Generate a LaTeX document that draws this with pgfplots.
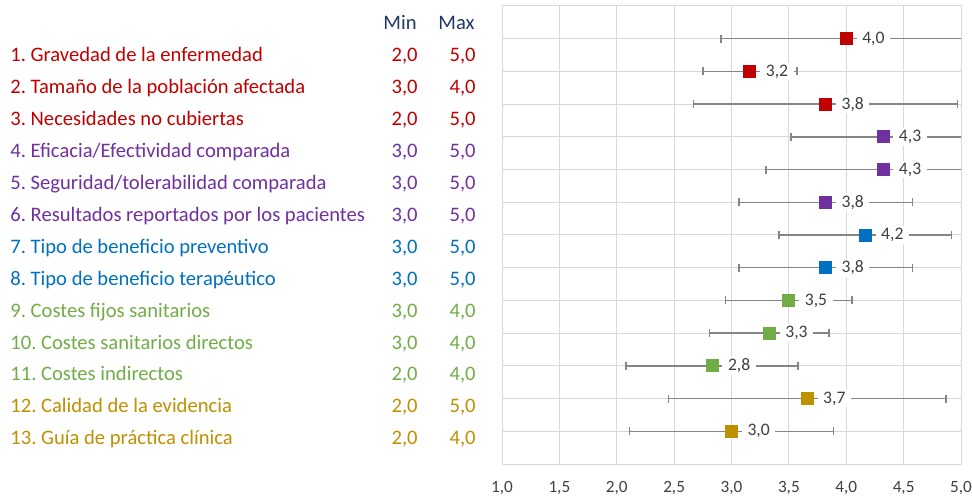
\documentclass[border=0pt]{standalone}
\usepackage{pgfplots}
\usepackage{pgfplotstable}
\pgfplotsset{compat=1.18}
\usepackage{fontspec}
\setmainfont{Carlito}
\frenchspacing
\definecolor{cred}{HTML}{C00000}
\definecolor{cpur}{HTML}{7030A0}
\definecolor{cblue}{HTML}{0070C0}
\definecolor{cgreen}{HTML}{70AD47}
\definecolor{cgold}{HTML}{BF9000}
\definecolor{cnavy}{HTML}{1F3864}
\definecolor{gridc}{HTML}{D9D9D9}
\definecolor{errc}{HTML}{858585}
\definecolor{lblc}{HTML}{404040}

\pgfplotstableread{
x y e l
4.00 13 1.09 4,0
3.16 12 0.41 3,2
3.82 11 1.15 3,8
}\tred
\pgfplotstableread{
x y e l
4.32 10 0.80 4,3
4.32 9 1.02 4,3
3.82 8 0.755 3,8
}\tpur
\pgfplotstableread{
x y e l
4.165 7 0.75 4,2
3.82 6 0.755 3,8
}\tblue
\pgfplotstableread{
x y e l
3.50 5 0.55 3,5
3.33 4 0.52 3,3
2.83 3 0.75 2,8
}\tgreen
\pgfplotstableread{
x y e l
3.66 2 1.21 3,7
3.00 1 0.89 3,0
}\tgold

\newcommand\row[5]{%
  \pgfmathsetmacro\yy{201-15.95*(#1-1)}%
  \node[anchor=base west, text=#2, font=\fontsize{10.3}{12}\selectfont, inner sep=0pt] at (-246pt,\yy pt) {#3};
  \node[anchor=base east, text=#2, font=\fontsize{10.3}{12}\selectfont, inner sep=0pt] at (-42pt,\yy pt) {#4};
  \node[anchor=base east, text=#2, font=\fontsize{10.3}{12}\selectfont, inner sep=0pt] at (-13pt,\yy pt) {#5};
}

\begin{document}
\begin{tikzpicture}
\useasboundingbox (-251pt,-16.5pt) rectangle (235pt,232pt);
\begin{axis}[at={(0,0)}, anchor=south west, scale only axis,
  width=229.5pt, height=229pt,
  xmin=1, xmax=5, ymin=0, ymax=14,
  xtick={1,1.5,...,5}, ytick={0,...,14}, yticklabels={},
  grid=major, grid style={gridc, line width=0.5pt},
  axis line style={gridc, line width=0.5pt},
  major tick length=0pt,
  /pgf/number format/assume math mode=true,
  xticklabel style={font=\fontsize{8.6}{10}\selectfont, text=lblc, yshift=-5pt,
    /pgf/number format/.cd, fixed, fixed zerofill, precision=1, use comma},
  only marks,
  point meta=explicit symbolic,
  nodes near coords,
  nodes near coords style={anchor=west, xshift=5pt, fill=white, inner xsep=2.8pt, inner ysep=1pt,
    font=\fontsize{8.8}{10}\selectfont, text=lblc},
  error bars/x dir=both, error bars/x explicit,
  error bars/error bar style={errc, line width=0.7pt},
  error bars/error mark options={errc, mark size=2pt, line width=0.7pt, rotate=90},
]
\addplot[mark=square*, mark size=3pt, color=cred] table[x=x, y=y, x error=e, meta=l] {\tred};
\addplot[mark=square*, mark size=3pt, color=cpur] table[x=x, y=y, x error=e, meta=l] {\tpur};
\addplot[mark=square*, mark size=3pt, color=cblue] table[x=x, y=y, x error=e, meta=l] {\tblue};
\addplot[mark=square*, mark size=3pt, color=cgreen] table[x=x, y=y, x error=e, meta=l] {\tgreen};
\addplot[mark=square*, mark size=3pt, color=cgold] table[x=x, y=y, x error=e, meta=l] {\tgold};
\end{axis}
\node[anchor=base east, text=cnavy, font=\fontsize{10.3}{12}\selectfont, inner sep=0pt] at (-42.5pt,217pt) {Min};
\node[anchor=base east, text=cnavy, font=\fontsize{10.3}{12}\selectfont, inner sep=0pt] at (-13.5pt,217pt) {Max};
\row{1}{cred}{1. Gravedad de la enfermedad}{2,0}{5,0}
\row{2}{cred}{2. Tamaño de la población afectada}{3,0}{4,0}
\row{3}{cred}{3. Necesidades no cubiertas}{2,0}{5,0}
\row{4}{cpur}{4. Eficacia/Efectividad comparada}{3,0}{5,0}
\row{5}{cpur}{5. Seguridad/tolerabilidad comparada}{3,0}{5,0}
\row{6}{cpur}{6. Resultados reportados por los pacientes}{3,0}{5,0}
\row{7}{cblue}{7. Tipo de beneficio preventivo}{3,0}{5,0}
\row{8}{cblue}{8. Tipo de beneficio terapéutico}{3,0}{5,0}
\row{9}{cgreen}{9. Costes fijos sanitarios}{3,0}{4,0}
\row{10}{cgreen}{10. Costes sanitarios directos}{3,0}{4,0}
\row{11}{cgreen}{11. Costes indirectos}{2,0}{4,0}
\row{12}{cgold}{12. Calidad de la evidencia}{2,0}{5,0}
\row{13}{cgold}{13. Guía de práctica clínica}{2,0}{4,0}
\end{tikzpicture}
\end{document}
